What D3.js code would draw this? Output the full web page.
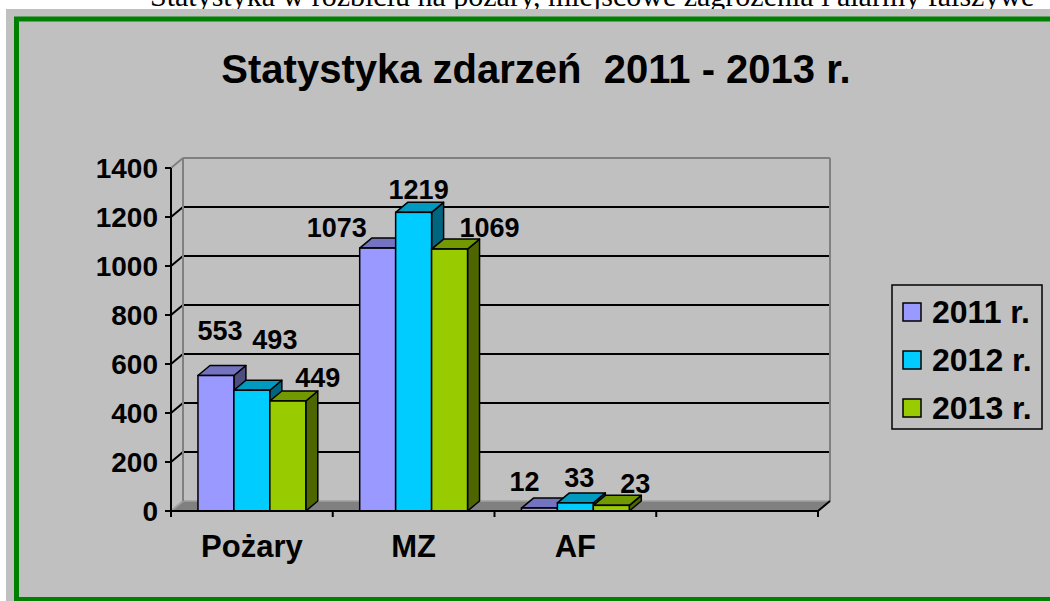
<!DOCTYPE html>
<html>
<head>
<meta charset="utf-8">
<script src="https://cdn.jsdelivr.net/npm/d3@7"></script>
<style>
  html, body { margin: 0; padding: 0; background: #fff; overflow: hidden; }
  svg { display: block; }
  text { white-space: pre; }
</style>
</head>
<body>
<svg id="canvas" width="1050" height="601"></svg>
<script>
// dane
const categories = ["Pożary", "MZ", "AF"];
const years = ["2011 r.", "2012 r.", "2013 r."];
const values2011 = [553, 1073, 12];
const values2012 = [493, 1219, 33];
const values2013 = [449, 1069, 23];
const yTicks = [0, 200, 400, 600, 800, 1000, 1200, 1400];

// przesunięcia etykiet (Excel rozsuwa je, żeby się nie nakładały)
const labelNudge = [
  [[-2, -23], [17, -28], [24, -1]],
  [[-47, 2], [-1, 0], [34, 1]],
  [[-21, -4], [-2, -3], [18, 1]]
];

const series = [values2011, values2012, values2013];
const front = ["#9999FF", "#00CCFF", "#99CC00"];
const top_ = ["#7373BF", "#0099BF", "#739900"];
const side = ["#4D4D80", "#006680", "#4D6600"];

const svg = d3.select("#canvas");
const sans = "'Liberation Sans', Arial, sans-serif";

// napis u góry strony (ucięty)
svg.append("text")
  .attr("x", 150).attr("y", 6)
  .attr("font-family", "'Liberation Serif', 'Times New Roman', serif")
  .attr("font-size", 30)
  .text("Statystyka w rozbiciu na pożary, miejscowe zagrożenia i alarmy fałszywe");

// tło wykresu
svg.append("rect")
  .attr("x", 6).attr("y", 9).attr("width", 1044).attr("height", 592)
  .attr("fill", "#C0C0C0");
svg.append("rect")
  .attr("x", 16.5).attr("y", 19).attr("width", 1050).attr("height", 580.5)
  .attr("fill", "none").attr("stroke", "#008000").attr("stroke-width", 5);

// tytuł
svg.append("text")
  .attr("x", 536).attr("y", 83)
  .attr("text-anchor", "middle")
  .attr("font-family", sans).attr("font-weight", "bold").attr("font-size", 40)
  .text("Statystyka zdarzeń  2011 - 2013 r.");

const DX = 12, DY = -10;
const left = 171, right = 818;

const slots = [...categories, " "];
const x = d3.scaleBand().domain(slots).range([left, right]);
const xs = d3.scaleBand().domain(years).range([0, x.bandwidth()]).paddingOuter(0.75);
const y = d3.scaleLinear().domain([0, 1400]).range([511, 168]);

const g = svg.append("g");

// podłoga
g.append("polygon")
  .attr("points", [[left, y(0)], [right, y(0)], [right + DX, y(0) + DY], [left + DX, y(0) + DY]].join(" "))
  .attr("fill", "#808080");
g.append("line")
  .attr("x1", left + DX).attr("x2", right + DX).attr("y1", y(0) + DY).attr("y2", y(0) + DY)
  .attr("stroke", "#A0A0A0").attr("stroke-width", 1.5);

// ściana tylna - linie siatki
yTicks.forEach(t => {
  const last = t === 1400;
  if (t > 0) {
    g.append("line")
      .attr("x1", left + DX).attr("x2", right + DX)
      .attr("y1", y(t) + DY).attr("y2", y(t) + DY)
      .attr("stroke", last ? "#808080" : "#000").attr("stroke-width", 2);
  }
  g.append("line")
    .attr("x1", left).attr("y1", y(t))
    .attr("x2", left + DX).attr("y2", y(t) + DY)
    .attr("stroke", t === 0 ? "#A0A0A0" : last ? "#808080" : "#000").attr("stroke-width", 2);
});
// krawędzie ściany
g.append("line")
  .attr("x1", left + DX).attr("x2", left + DX).attr("y1", y(1400) + DY).attr("y2", y(0) + DY)
  .attr("stroke", "#808080").attr("stroke-width", 2);
g.append("line")
  .attr("x1", right + DX).attr("x2", right + DX).attr("y1", y(1400) + DY).attr("y2", y(0) + DY)
  .attr("stroke", "#808080").attr("stroke-width", 2);

// oś Y
g.append("line")
  .attr("x1", left).attr("x2", left).attr("y1", y(1400)).attr("y2", y(0) + 6)
  .attr("stroke", "#000").attr("stroke-width", 2);
yTicks.forEach(t => {
  g.append("line")
    .attr("x1", left - 6).attr("x2", left).attr("y1", y(t)).attr("y2", y(t))
    .attr("stroke", "#000").attr("stroke-width", 2);
  g.append("text")
    .attr("x", 158).attr("y", y(t)).attr("dy", "0.36em")
    .attr("text-anchor", "end")
    .attr("font-family", sans).attr("font-weight", "bold").attr("font-size", 28)
    .text(t);
});

// słupki 3D
categories.forEach((c, ci) => {
  years.forEach((yr, si) => {
    const v = series[si][ci];
    const x0 = x(c) + xs(yr), x1 = x0 + xs.bandwidth();
    const y0 = y(0), y1 = y(v);
    const bar = g.append("g");
    bar.append("polygon")
      .attr("points", [[x1, y1], [x1 + DX, y1 + DY], [x1 + DX, y0 + DY], [x1, y0]].join(" "))
      .attr("fill", side[si]).attr("stroke", "#000").attr("stroke-width", 1.5)
      .attr("stroke-linejoin", "round");
    bar.append("polygon")
      .attr("points", [[x0, y1], [x0 + DX, y1 + DY], [x1 + DX, y1 + DY], [x1, y1]].join(" "))
      .attr("fill", top_[si]).attr("stroke", "#000").attr("stroke-width", 1.5)
      .attr("stroke-linejoin", "round");
    bar.append("rect")
      .attr("x", x0).attr("y", y1).attr("width", x1 - x0).attr("height", y0 - y1)
      .attr("fill", front[si]).attr("stroke", "#000").attr("stroke-width", 1.5);
  });
});

// krawędź podłogi z przodu
g.append("line")
  .attr("x1", left).attr("x2", right).attr("y1", y(0)).attr("y2", y(0))
  .attr("stroke", "#000").attr("stroke-width", 2);
g.append("line")
  .attr("x1", right).attr("y1", y(0)).attr("x2", right + DX).attr("y2", y(0) + DY)
  .attr("stroke", "#000").attr("stroke-width", 2);
slots.forEach(s => {
  g.append("line")
    .attr("x1", x(s) + x.bandwidth()).attr("x2", x(s) + x.bandwidth())
    .attr("y1", y(0)).attr("y2", y(0) + 6)
    .attr("stroke", "#000").attr("stroke-width", 2);
});

// etykiety danych
categories.forEach((c, ci) => {
  years.forEach((yr, si) => {
    const v = series[si][ci];
    const cx = x(c) + xs(yr) + xs.bandwidth() / 2 + DX / 2;
    const [nx, ny] = labelNudge[ci][si];
    g.append("text")
      .attr("x", cx + nx).attr("y", y(v) - 13 + ny)
      .attr("text-anchor", "middle")
      .attr("font-family", sans).attr("font-weight", "bold").attr("font-size", 27)
      .text(v);
  });
});

// etykiety kategorii
categories.forEach(c => {
  g.append("text")
    .attr("x", x(c) + x.bandwidth() / 2).attr("y", 557)
    .attr("text-anchor", "middle")
    .attr("font-family", sans).attr("font-weight", "bold").attr("font-size", 31)
    .text(c);
});

// legenda
const legend = svg.append("g").attr("transform", "translate(892,285)");
legend.append("rect")
  .attr("width", 150).attr("height", 144)
  .attr("fill", "#C0C0C0").attr("stroke", "#000").attr("stroke-width", 1.5);
years.forEach((yr, i) => {
  const row = legend.append("g").attr("transform", `translate(0,${27 + i * 48})`);
  row.append("rect")
    .attr("x", 11).attr("y", -9).attr("width", 18).attr("height", 18)
    .attr("fill", front[i]).attr("stroke", "#000").attr("stroke-width", 1.5);
  row.append("text")
    .attr("x", 40).attr("y", 11)
    .attr("font-family", sans).attr("font-weight", "bold").attr("font-size", 32)
    .text(yr);
});
</script>
</body>
</html>
